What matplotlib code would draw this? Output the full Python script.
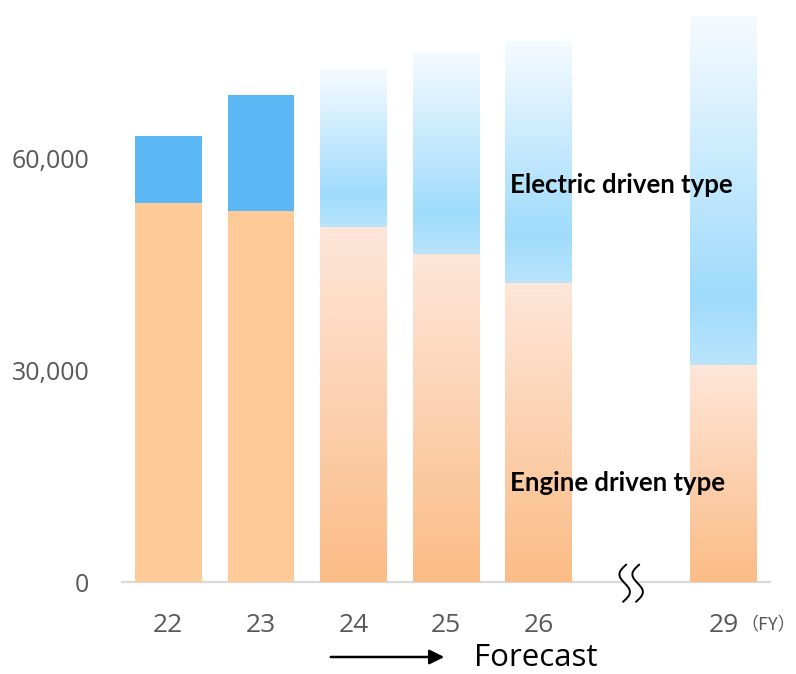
import numpy as np
import matplotlib.pyplot as plt
from matplotlib.colors import LinearSegmentedColormap
from matplotlib.patches import FancyArrowPatch

# Fiscal years and unit volumes by drive type
years = ["22", "23", "24", "25", "26", "29"]
positions = [0, 1, 2, 3, 4, 6]
engine = [53800, 52600, 50350, 46520, 42410, 30780]
electric = [9500, 16500, 22410, 28660, 34330, 49500]
forecast = [False, False, True, True, True, True]
y_ticks = [0, 30000, 60000]
y_tick_labels = ["0", "30,000", "60,000"]

W, H = 796, 674
fig = plt.figure(figsize=(W / 100, H / 100), dpi=100)
ax = fig.add_axes([122 / W, (H - 582) / H, 648 / W, 582 / H])

font = "Open Sans"
grey_text = "#595959"

engine_solid = "#FECA98"
electric_solid = "#5BB8F5"
engine_cmap = LinearSegmentedColormap.from_list(
    "eng", [(0.0, "#FBBC86"), (1.0, "#FEE6D9")])
electric_cmap = LinearSegmentedColormap.from_list(
    "ele", [(0.0, "#B9E4FB"), (0.2, "#9FDBFC"), (1.0, "#F6FBFF")])

bar_w = 0.72
grad = np.linspace(0, 1, 256).reshape(-1, 1)

def gradient_fill(patch, cmap):
    x0, y0 = patch.get_x(), patch.get_y()
    w, h = patch.get_width(), patch.get_height()
    im = ax.imshow(grad, cmap=cmap, aspect="auto", origin="lower",
                   extent=(x0, x0 + w, y0, y0 + h), zorder=2,
                   interpolation="bilinear")
    im.set_clip_path(patch)
    patch.set_facecolor("none")

eng_bars = ax.bar(positions, engine, width=bar_w, color=engine_solid,
                  linewidth=0, zorder=2)
ele_bars = ax.bar(positions, electric, bottom=engine, width=bar_w,
                  color=electric_solid, linewidth=0, zorder=2)

for pe, pl, fc in zip(eng_bars, ele_bars, forecast):
    if fc:
        gradient_fill(pe, engine_cmap)
        gradient_fill(pl, electric_cmap)

ax.set_xlim(-0.5, 6.5)
ax.set_ylim(0, 82550)

for s in ["top", "right", "left"]:
    ax.spines[s].set_visible(False)
ax.spines["bottom"].set_color("#D9D9D9")
ax.spines["bottom"].set_linewidth(1.6)
ax.spines["bottom"].set_zorder(1)

ax.set_xticks(positions)
ax.set_xticklabels(years, fontsize=19, color=grey_text, fontfamily=font)
ax.set_yticks(y_ticks)
ax.set_yticklabels(y_tick_labels, fontsize=18, color=grey_text, fontfamily=font)
ax.tick_params(axis="both", length=0)
ax.tick_params(axis="x", pad=22)
ax.tick_params(axis="y", pad=23.5)

# Axis break marker between FY26 and FY29
t = np.linspace(0, 1, 120)
wave = np.sin(2 * np.pi * t) * 0.065 + 0.035 * (t - 0.5)
by = -0.034 + t * 0.064
tr = ax.get_xaxis_transform()
left_curve = 5 - 0.07 + wave
right_curve = 5 + 0.07 + wave
ax.fill_betweenx(by, left_curve, right_curve, color="white", lw=0,
                 transform=tr, clip_on=False, zorder=4)
for cx in (left_curve, right_curve):
    ax.plot(cx, by, color="black", lw=1.4, transform=tr, clip_on=False,
            zorder=5, solid_capstyle="round")

# Series labels
ax.text(0.599, 0.682, "Electric driven type", transform=ax.transAxes,
        fontsize=18.5, fontweight="bold", fontfamily="Lato", va="center",
        ha="left", color="black", zorder=6)
ax.text(0.599, 0.170, "Engine driven type", transform=ax.transAxes,
        fontsize=18.5, fontweight="bold", fontfamily="Lato", va="center",
        ha="left", color="black", zorder=6)

# Fiscal-year unit note
fig.text(740 / W, (H - 625) / H, "（FY）", fontsize=13, color=grey_text,
         family=["Noto Sans CJK JP", "DejaVu Sans"], va="center", ha="left")

# Forecast arrow
arrow = FancyArrowPatch((328 / W, (H - 657) / H), (447 / W, (H - 657) / H),
                        transform=fig.transFigure, arrowstyle="-|>",
                        mutation_scale=22, lw=1.8, color="black")
fig.patches.append(arrow)
fig.text(474 / W, (H - 666) / H, "Forecast", fontsize=22.5, color="black",
         fontfamily=font, va="baseline", ha="left")

fig.savefig("out.png", dpi=100, facecolor="white")
